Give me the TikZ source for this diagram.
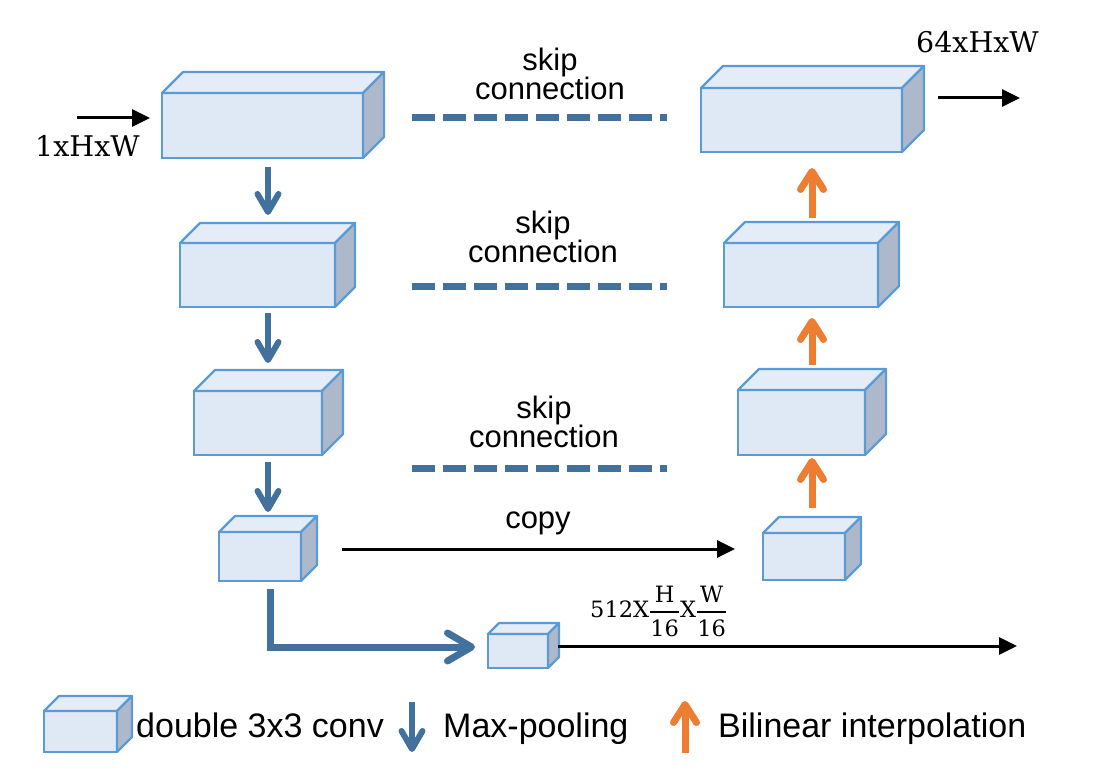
\documentclass[tikz,border=0pt]{standalone}
\usepackage{amsmath}
\usepackage{fontspec}
\setsansfont{Liberation Sans}
\newfontfamily\serfont{DejaVu Serif}
\usetikzlibrary{arrows.meta,calc}

\definecolor{facefill}{HTML}{DEE9F5}
\definecolor{topfill}{HTML}{E3ECF7}
\definecolor{sidefill}{HTML}{ADB9CA}
\definecolor{edgeblue}{HTML}{5B9BD5}
\definecolor{poolblue}{HTML}{41719C}
\definecolor{uporange}{HTML}{ED7D31}

\tikzstyle{blockfront} = [draw=edgeblue, fill=facefill, line width=2.2pt,
    rectangle, inner sep=0pt, outer sep=0pt]
\tikzstyle{blocktop} = [draw=edgeblue, fill=topfill, line width=2.2pt, line join=round]
\tikzstyle{blockside} = [draw=edgeblue, fill=sidefill, line width=2.2pt, line join=round]
\tikzstyle{poolarrow} = [draw=poolblue, line width=6pt,
    -{Straight Barb[length=18pt,width=21pt,round]}]
\tikzstyle{downarrow} = [draw=poolblue, line width=7pt,
    -{Straight Barb[length=24pt,width=28pt,round]}]
\tikzstyle{uparrow} = [draw=uporange, line width=7pt,
    -{Straight Barb[length=18pt,width=23pt,round]}]
\tikzstyle{skipline} = [draw=poolblue, line width=7pt, dash pattern=on 23pt off 8pt]
\tikzstyle{flowarrow} = [draw=black, line width=3pt, -{Triangle[length=18pt,width=17pt]}]
\tikzstyle{sanslabel} = [font=\sffamily\fontsize{31}{29}\selectfont, align=center, inner sep=0pt]
\tikzstyle{legendlabel} = [font=\sffamily\fontsize{34}{40}\selectfont, inner sep=0pt, anchor=base west]
\tikzstyle{serlabel} = [font=\serfont\fontsize{28.5}{34}\selectfont, inner sep=0pt, anchor=base west]

% front face as a node, then top and side faces
\newcommand{\convblock}[6]{%
  \node[blockfront, minimum width=#4pt, minimum height=#5pt, anchor=north west] (#1) at (#2,#3) {};
  \draw[blocktop] (#1.north west) -- ++(#6,-#6) -- ++(#4,0) -- (#1.north east) -- cycle;
  \draw[blockside] (#1.north east) -- ++(#6,-#6) -- ++(0,#5) -- (#1.south east) -- cycle;
}
\newcommand{\sizefrac}[2]{\genfrac{}{}{2.4pt}{0}{\hbox{\serfont #1}}{\hbox{\serfont #2}}}

\begin{document}
\begin{tikzpicture}[x=1pt,y=-1pt]
\useasboundingbox (0,0) rectangle (1104,778);

% encoder
\convblock{enc1}{162}{93}{201}{65}{21}
\convblock{enc2}{180}{243}{155}{64}{20}
\convblock{enc3}{194}{391}{128}{64}{21}
\convblock{enc4}{219}{532}{82}{49}{16}
\convblock{bott}{488}{634}{60}{34}{11}
% decoder
\convblock{dec1}{701}{88}{201}{64}{22}
\convblock{dec2}{724}{243}{154}{64}{21}
\convblock{dec3}{738}{390}{127}{65}{21}
\convblock{dec4}{763}{533}{82}{47}{16}

\draw[poolarrow] ($(enc1.south)+(5.5,9)$) -- ($(enc2.north)+(10.5,-28)$);
\draw[poolarrow] ($(enc2.south)+(10.5,6)$) -- ($(enc3.north)+(10,-28)$);
\draw[poolarrow] ($(enc3.south)+(10,7)$) -- ($(enc4.north)+(8,-20)$);
\draw[downarrow] ($(enc4.south)+(10,8)$) |- ($(bott.west)+(-13,-4)$);

\draw[uparrow] ($(dec2.north)+(11,-25)$) -- ($(dec1.south)+(10.5,16)$);
\draw[uparrow] ($(dec3.north)+(10.5,-25)$) -- ($(dec2.south)+(11,11)$);
\draw[uparrow] ($(dec4.north)+(8,-25)$) -- ($(dec3.south)+(10.5,3)$);

% skip connections
\node[sanslabel, anchor=base] (skip1) at (550,100) {skip\\connection};
\node[sanslabel, anchor=base] (skip2) at (543,263) {skip\\connection};
\node[sanslabel, anchor=base] (skip3) at (544,447) {skip\\connection};
\draw[skipline] ($(enc1.east)+(49,-7.5)$) -- ($(dec1.west)+(-34,-2)$);
\draw[skipline] ($(enc2.east)+(77,12)$) -- ($(dec2.west)+(-57,12)$);
\draw[skipline] ($(enc3.east)+(90,45)$) -- ($(dec3.west)+(-71,45.5)$);

\node[sanslabel, anchor=base] (copylab) at (538,528) {copy};
\draw[flowarrow] ($(enc4.east)+(41,-7.5)$) -- ($(dec4.west)+(-28,-7.5)$);

% input / output
\coordinate (inp) at (77,118);
\coordinate (outp) at (1020,98);
\coordinate (btmout) at (1017,646);
\draw[flowarrow] (inp) -- ($(enc1.west)+(-12,-7.5)$);
\draw[flowarrow] ($(dec1.east)+(36,-22)$) -- (outp);
\draw[flowarrow] ($(bott.east)+(10,-5)$) -- (btmout);
\node[serlabel] (inlab) at (35,157) {1xHxW};
\node[serlabel] (outlab) at (916,53) {64xHxW};
\node[serlabel, font=\serfont\fontsize{22.5}{27}\selectfont] (btmlab) at (590,617)
    {512X$\sizefrac{H}{16}$X$\sizefrac{W}{16}$};

% legend
\convblock{legbox}{44}{711}{73}{41}{15}
\node[legendlabel] (legconv) at (136,737) {double 3x3 conv};
\draw[poolarrow] (412,702) -- (412,752);
\node[legendlabel] (legpool) at (443,737) {Max-pooling};
\draw[uparrow] (685,753) -- (685,701);
\node[legendlabel] (legup) at (718,737) {Bilinear interpolation};
\end{tikzpicture}
\end{document}
